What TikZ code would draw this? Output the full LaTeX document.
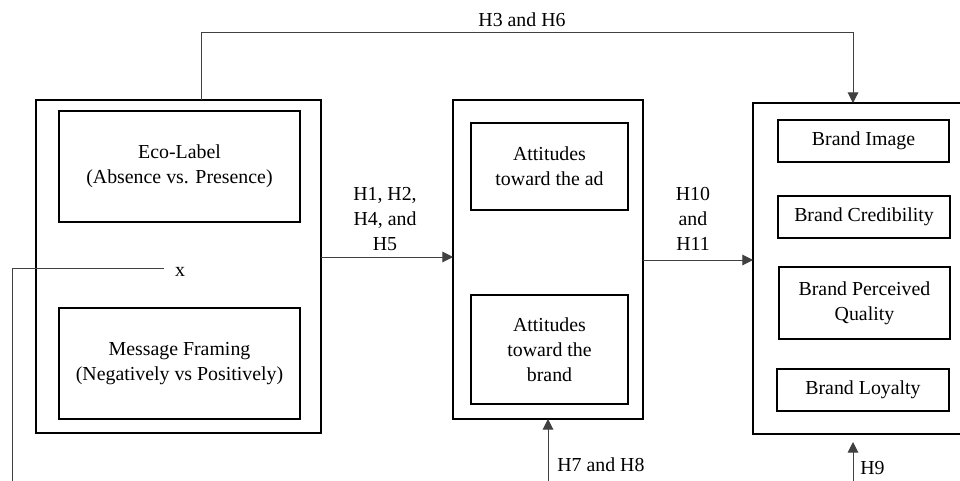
\documentclass[tikz,border=0pt]{standalone}
\usepackage{fontspec}
\setmainfont{Liberation Serif}
\usetikzlibrary{arrows.meta}
\begin{document}
\begin{tikzpicture}[x=0.02cm,y=-0.02cm,
  every node/.style={font=\fontsize{11.3}{14.2}\selectfont},
  box/.style={draw, line width=1.1pt, inner sep=0pt, outer sep=0pt, align=center},
  conn/.style={line width=0.55pt, draw=black!75},
  arr/.style={conn, -{Triangle[length=6pt,width=6pt]}},
  lbl/.style={align=center, inner sep=0pt}]
\clip (0,0) rectangle (960,480);
\fill[white] (0,0) rectangle (960,480);
% left group
\node[box, minimum width=5.70cm, minimum height=6.66cm] (L) at (178.5,266.5) {};
\node[box, minimum width=4.82cm, minimum height=2.22cm] (eco) at (179.5,166.5) {Eco-Label\\(Absence vs. Presence)};
\node[box, minimum width=4.82cm, minimum height=2.22cm] (mf) at (179.5,363.5) {Message Framing\\(Negatively vs Positively)};
\node[lbl] (x) at (180,272) {x};
% middle group
\node[box, minimum width=3.80cm, minimum height=6.38cm] (M) at (548,259.5) {};
\node[box, minimum width=3.14cm, minimum height=1.74cm] (ad) at (549.5,166.5) {Attitudes\\toward the ad};
\node[box, minimum width=3.14cm, minimum height=2.18cm] (ab) at (549.5,349.5) {Attitudes\\toward the\\brand};
% right group
\node[box, minimum width=4.44cm, minimum height=6.62cm] (R) at (864,268.5) {};
\node[box, minimum width=3.42cm, minimum height=0.84cm] (bi) at (863.5,141) {Brand Image};
\node[box, minimum width=3.44cm, minimum height=0.84cm] (bc) at (864,217) {Brand Credibility};
\node[box, minimum width=3.42cm, minimum height=1.44cm] (bpq) at (864.5,303) {Brand Perceived\\Quality};
\node[box, minimum width=3.44cm, minimum height=0.84cm] (bl) at (863,390) {Brand Loyalty};
% connectors
\coordinate (t1) at (201,32);
\coordinate (t2) at (853,32);
\draw[arr] (L.north -| t1) -- (t1) -- (t2) -- (R.north -| t2);
\node[lbl] (h36) at (522,20) {H3 and H6};
\draw[arr] (L.east |- 0,257) -- (M.west |- 0,257);
\node[lbl] (h1) at (385,219) {H1, H2,\\H4, and\\H5};
\draw[arr] (M.east |- 0,260) -- (R.west |- 0,260);
\node[lbl] (h10) at (693,219) {H10\\and\\H11};
\coordinate (xa) at (164,268);
\coordinate (xb) at (12,268);
\coordinate (xc) at (12,482);
\draw[conn] (xa) -- (xb) -- (xc);
\coordinate (h7s) at (548,482);
\draw[arr] (h7s) -- (M.south -| h7s);
\node[lbl, anchor=west] (h78) at (557,465) {H7 and H8};
\coordinate (h9s) at (853,482);
\coordinate (h9e) at (853,442);
\draw[arr] (h9s) -- (h9e);
\node[lbl, anchor=west] (h9) at (860,468) {H9};
\end{tikzpicture}
\end{document}
